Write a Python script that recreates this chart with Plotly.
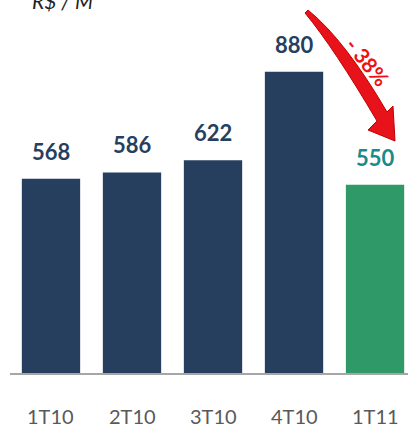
import plotly.graph_objects as go

categories = ["1T10", "2T10", "3T10", "4T10", "1T11"]
values = [568, 586, 622, 880, 550]
bar_colors = ["#263f5f", "#263f5f", "#263f5f", "#263f5f", "#2f9a68"]
label_colors = ["#263f5f", "#263f5f", "#263f5f", "#263f5f", "#1b8a8a"]
unit_title = "R$ / M²"
change_label = "- 38%"

W, H = 408, 428
ML, MR, MT, MB = 10, 0, 0, 55
PW, PH = W - ML - MR, H - MT - MB


def px(x):
    return (x - ML) / PW


def py(y):
    return (H - MB - y) / PH


FONT = "Lato"

fig = go.Figure()
fig.add_trace(go.Bar(
    x=list(range(len(categories))), y=values,
    marker=dict(color=bar_colors, line=dict(width=0)),
    width=0.72, hoverinfo="skip",
))

annotations = []
for i, (v, c) in enumerate(zip(values, label_colors)):
    annotations.append(dict(
        x=i, y=v, xref="x", yref="y", text=f"<b>{v}</b>", showarrow=False,
        yanchor="bottom", yshift=12, font=dict(family=FONT, size=22, color=c),
    ))
for i, cat in enumerate(categories):
    annotations.append(dict(
        x=i, y=0, xref="x", yref="y", text=cat, showarrow=False,
        yanchor="middle", yshift=-43, font=dict(family=FONT, size=20, color="#595959"),
    ))
annotations.append(dict(
    x=px(30), y=py(0), xref="paper", yref="paper", text=f"<i>{unit_title}</i>",
    showarrow=False, xanchor="left", yanchor="middle",
    font=dict(family=FONT, size=21, color="#222222"),
))
annotations.append(dict(
    x=px(368), y=py(61), xref="paper", yref="paper", text=f"<b>{change_label}</b>",
    showarrow=False, xanchor="center", yanchor="middle", textangle=51,
    font=dict(family=FONT, size=21, color="#ee1111"),
))


def P(p):
    return f"{px(p[0]):.5f},{py(p[1]):.5f}"


path = (f"M {P((308, 10))} Q {P((345, 40))} {P((387, 112))} "
        f"L {P((393, 106))} L {P((395, 141))} L {P((368, 130))} L {P((377, 121))} "
        f"Q {P((334, 48))} {P((305, 13))} Z")

fig.update_layout(
    width=W, height=H,
    margin=dict(l=ML, r=MR, t=MT, b=MB),
    paper_bgcolor="white", plot_bgcolor="white",
    showlegend=False,
    xaxis=dict(range=[-0.506, 4.407], showticklabels=False, showgrid=False,
               zeroline=False, showline=True, linecolor="#a6a6a6", linewidth=2,
               ticks="", fixedrange=True),
    yaxis=dict(range=[0, 1090], visible=False, showgrid=False, zeroline=False,
               fixedrange=True),
    annotations=annotations,
    shapes=[dict(type="path", path=path, xref="paper", yref="paper",
                 fillcolor="#e8121a", line=dict(color="#c00000", width=1), layer="above")],
    bargap=0.28,
)

fig.write_html("out.html", config={"displayModeBar": False},
               post_script="document.body.style.margin='0';document.body.style.overflow='hidden';")
